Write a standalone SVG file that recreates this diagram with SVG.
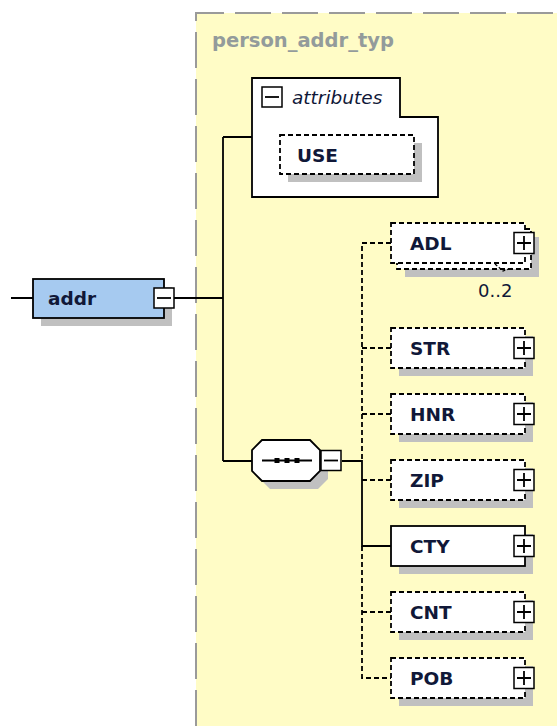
<svg xmlns="http://www.w3.org/2000/svg" xmlns:xlink="http://www.w3.org/1999/xlink" width="557" height="726" viewBox="0 0 557 726">
<style>
.ln{stroke:#000;stroke-width:1.8;fill:none}
.dl{stroke:#000;stroke-width:1.8;fill:none;stroke-dasharray:5 3}
.box{fill:#fff;stroke:#000;stroke-width:1.8}
.dbox{fill:#fff;stroke:#000;stroke-width:1.8;stroke-dasharray:5 3}
.sh{fill:#c0c0c0}
.btn{fill:#fff;stroke:#000;stroke-width:1.5}
.lbl{font-family:"DejaVu Sans",sans-serif;font-weight:bold;font-size:18.5px;fill:#101838}
.it{font-family:"DejaVu Sans",sans-serif;font-style:italic;font-size:18.5px;fill:#101838}
.occ{font-family:"DejaVu Sans",sans-serif;font-size:18px;fill:#101838}
.typ{font-family:"DejaVu Sans",sans-serif;font-weight:bold;font-size:19.5px;fill:#939b9b}
</style>
<defs>
<g id="plus"><rect class="btn" x="-10" y="-10.5" width="20" height="21"/><path class="ln" d="M-7 0H7M0 -7V7"/></g>
<g id="minus"><rect class="btn" x="-10" y="-10" width="20" height="20"/><path class="ln" d="M-7 0H7"/></g>
</defs>
<g id="type-bg">
<rect x="196" y="13" width="361" height="713" fill="#fffcc6"/>
<path d="M196 726V13H557" fill="none" stroke="#9a9a9a" stroke-width="2" stroke-dasharray="36 11"/>
<text class="typ" x="212" y="47">person_addr_typ</text>
</g>
<g id="connectors">
<path class="ln" d="M11 298H33M173 298H223M223 137V461M223 137H252M223 461H252M342 461H362V546H391"/>
<path class="dl" d="M391 243H362V461M362 546V678H391M362 348H391M362 414H391M362 480H391M362 612H391"/>
</g>
<g id="n-addr">
<rect class="sh" x="41" y="287" width="131" height="39"/>
<rect class="box" x="33" y="279" width="131" height="39" style="fill:#a6caf0"/>
<text class="lbl" x="48" y="305">addr</text>
<use xlink:href="#minus" x="164" y="298"/>
</g>
<g id="n-attributes">
<polygon class="box" points="252,78 400,78 400,117 438,117 438,197 252,197"/>
<use xlink:href="#minus" x="272" y="97"/>
<text class="it" x="292" y="104">attributes</text>
</g>
<g id="n-USE">
<rect class="sh" x="288" y="143" width="134" height="39"/>
<rect class="dbox" x="280" y="135" width="134" height="39"/>
<text class="lbl" x="297" y="162">USE</text>
</g>
<g id="n-sequence">
<polygon class="sh" points="270,448 318,448 328,458 328,479 318,489 270,489 260,479 260,458"/>
<polygon class="box" points="262,440 310,440 320,450 320,471 310,481 262,481 252,471 252,450"/>
<path class="ln" d="M262 460.5H312"/>
<rect x="274.5" y="458" width="5" height="5"/>
<rect x="284.5" y="458" width="5" height="5"/>
<rect x="294.5" y="458" width="5" height="5"/>
<use xlink:href="#minus" x="331" y="460.5"/>
</g>
<g id="n-ADL">
<rect class="sh" x="405" y="237" width="134" height="40"/>
<rect class="dbox" x="397" y="229" width="134" height="40"/>
<rect class="dbox" x="391" y="223" width="134" height="40"/>
<text class="lbl" x="410" y="250">ADL</text>
<use xlink:href="#plus" x="524" y="243"/>
<polyline points="495,264 503,271 512,268" fill="none" stroke="#000" stroke-width="1.2" stroke-dasharray="3 2"/>
<text class="occ" x="478" y="297">0..2</text>
</g>
<g id="n-STR">
<rect class="sh" x="399" y="336" width="134" height="40"/>
<rect class="dbox" x="391" y="328" width="134" height="40"/>
<text class="lbl" x="410" y="355">STR</text>
<use xlink:href="#plus" x="524" y="348"/>
</g>
<g id="n-HNR">
<rect class="sh" x="399" y="402" width="134" height="40"/>
<rect class="dbox" x="391" y="394" width="134" height="40"/>
<text class="lbl" x="410" y="421">HNR</text>
<use xlink:href="#plus" x="524" y="414"/>
</g>
<g id="n-ZIP">
<rect class="sh" x="399" y="468" width="134" height="40"/>
<rect class="dbox" x="391" y="460" width="134" height="40"/>
<text class="lbl" x="410" y="487">ZIP</text>
<use xlink:href="#plus" x="524" y="480"/>
</g>
<g id="n-CTY">
<rect class="sh" x="399" y="534" width="134" height="40"/>
<rect class="box" x="391" y="526" width="134" height="40"/>
<text class="lbl" x="410" y="553">CTY</text>
<use xlink:href="#plus" x="524" y="546"/>
</g>
<g id="n-CNT">
<rect class="sh" x="399" y="600" width="134" height="40"/>
<rect class="dbox" x="391" y="592" width="134" height="40"/>
<text class="lbl" x="410" y="619">CNT</text>
<use xlink:href="#plus" x="524" y="612"/>
</g>
<g id="n-POB">
<rect class="sh" x="399" y="666" width="134" height="40"/>
<rect class="dbox" x="391" y="658" width="134" height="40"/>
<text class="lbl" x="410" y="685">POB</text>
<use xlink:href="#plus" x="524" y="678"/>
</g>
</svg>
